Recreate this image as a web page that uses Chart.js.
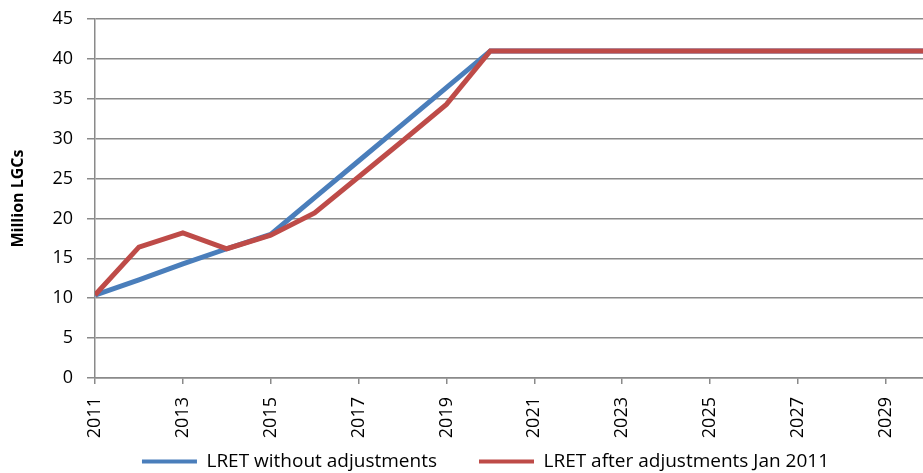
<!DOCTYPE html>
<html>
<head>
<meta charset="utf-8">
<script src="https://cdn.jsdelivr.net/npm/chart.js@4/dist/chart.umd.min.js"></script>
<style>
  html, body { margin: 0; padding: 0; background: #fff; }
  #wrap { width: 923px; height: 473px; }
</style>
</head>
<body>
<div id="wrap"><canvas id="c" width="923" height="473"></canvas></div>
<script>
const years = [2011,2012,2013,2014,2015,2016,2017,2018,2019,2020,2021,2022,2023,2024,2025,2026,2027,2028,2029,2030];
const lretWithout = [10.4,12.3,14.3,16.2,18.0,22.6,27.2,31.8,36.4,41,41,41,41,41,41,41,41,41,41,41];
const lretAfter   = [10.4,16.4,18.2,16.2,17.9,20.7,25.2,29.7,34.3,41,41,41,41,41,41,41,41,41,41,41];
const seriesNames = ['LRET without adjustments', 'LRET after adjustments Jan 2011'];
const xTickValues = [2011,2013,2015,2017,2019,2021,2023,2025,2027,2029];
const yTickValues = [0,5,10,15,20,25,30,35,40,45];

const BLUE = '#4A7EBB', RED = '#BE4B48', GRID = '#8a8a8a';
Chart.defaults.font.family = "'Open Sans', sans-serif";
Chart.defaults.font.size = 18;
Chart.defaults.color = '#000';
const tickFontFn = () => ({ family: "'Open Sans', sans-serif", size: 18, lineHeight: 1.2 });

const legendShift = {
  id: 'legendShift',
  afterLayout(chart) {
    const lg = chart.legend;
    if (!lg) return;
    lg.left += 24; lg.right += 24;
    lg.top += 8; lg.bottom += 8;
  }
};

new Chart(document.getElementById('c'), {
  type: 'line',
  plugins: [legendShift],
  data: {
    datasets: [
      { label: seriesNames[0], data: years.map((y,i)=>({x:y, y:lretWithout[i]})), order: 2,
        borderColor: BLUE, backgroundColor: BLUE, borderWidth: 5, pointRadius: 0, tension: 0 },
      { label: seriesNames[1], data: years.map((y,i)=>({x:y, y:lretAfter[i]})), order: 1,
        borderColor: RED, backgroundColor: RED, borderWidth: 5, pointRadius: 0, tension: 0 }
    ]
  },
  options: {
    responsive: false,
    animation: false,
    layout: { padding: { top: 19, right: 0, left: 0, bottom: 0 } },
    plugins: {
      tooltip: { enabled: false },
      legend: {
        position: 'bottom',
        labels: {
          boxWidth: 55, boxHeight: 4, padding: 4, color: '#000',
          font: { family: "'Open Sans', sans-serif", size: 19 },
          generateLabels: (chart) => {
            const items = Chart.defaults.plugins.legend.labels.generateLabels(chart);
            items.sort((a, b) => a.datasetIndex - b.datasetIndex);
            items.forEach((it, i) => { if (i === 0) it.text = it.text + '\u2003\u2003'; it.lineWidth = 0; });
            return items;
          }
        }
      }
    },
    scales: {
      x: {
        type: 'linear',
        min: 2011, max: 2029.85,
        afterBuildTicks: (s) => { s.ticks = xTickValues.map(v => ({ value: v })); },
        afterFit: (s) => { s.height = 62; s.paddingLeft = 0; s.paddingRight = 0; },
        ticks: { autoSkip: false, maxRotation: 90, minRotation: 90, padding: 13, color: '#000',
                 font: tickFontFn,
                 callback: (v) => String(v) },
        grid: { drawOnChartArea: false, drawTicks: true, tickLength: 6, color: GRID, lineWidth: 1.5 },
        border: { display: true, color: GRID, width: 1.5 }
      },
      y: {
        min: 0, max: 45,
        afterBuildTicks: (s) => { s.ticks = yTickValues.map(v => ({ value: v })); },
        afterFit: (s) => { s.width = 95; s.paddingTop = 0; s.paddingBottom = 0; },
        ticks: { padding: 14, color: '#000', font: tickFontFn },
        grid: { drawTicks: true, tickLength: 8, color: GRID, lineWidth: 1.5 },
        border: { display: true, color: GRID, width: 1.5 },
        title: { display: true, text: 'Million LGCs', color: '#000', padding: { top: 9, bottom: 0 },
                 font: { family: "'Open Sans', sans-serif", size: 16, weight: 'bold' } }
      }
    }
  }
});
</script>
</body>
</html>
